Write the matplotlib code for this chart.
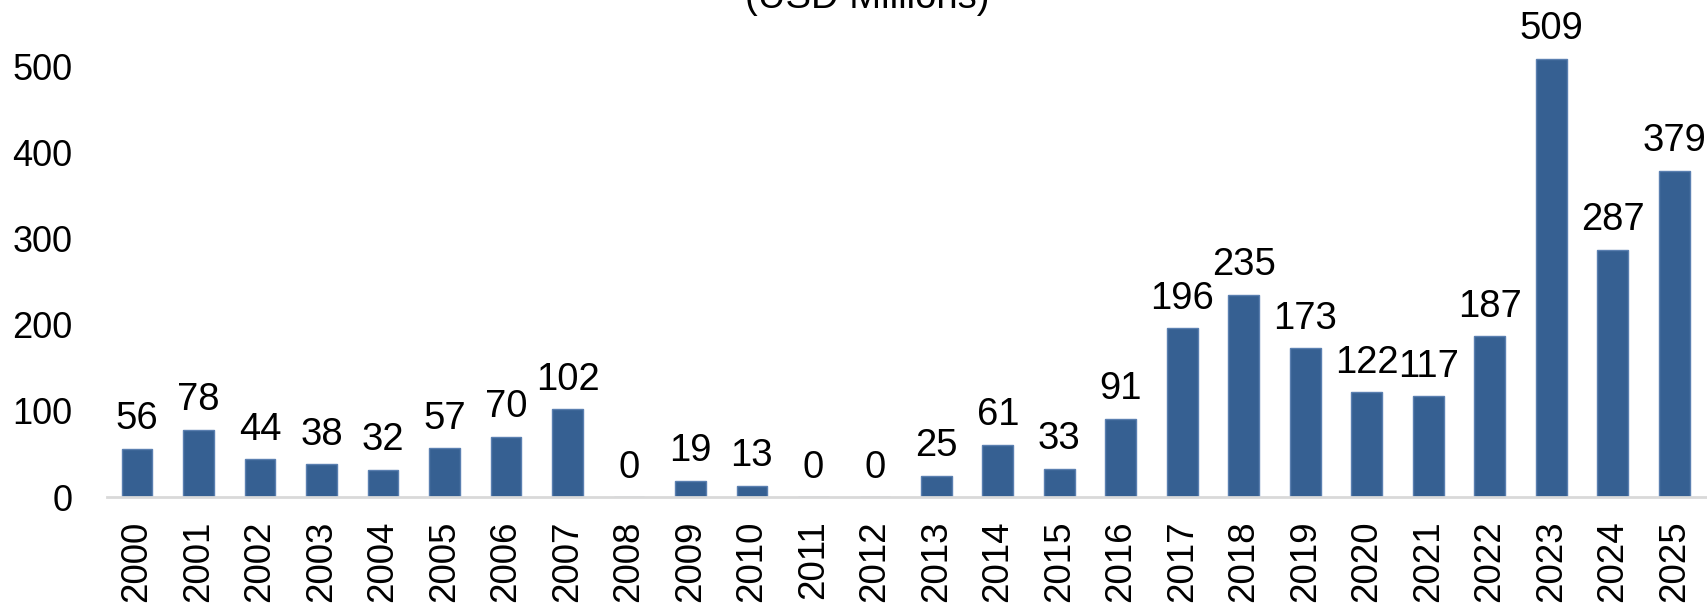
import matplotlib.pyplot as plt
import numpy as np

plt.rcParams['font.family'] = ['Liberation Sans', 'DejaVu Sans']

years = ['2000', '2001', '2002', '2003', '2004', '2005', '2006', '2007', '2008',
         '2009', '2010', '2011', '2012', '2013', '2014', '2015', '2016', '2017',
         '2018', '2019', '2020', '2021', '2022', '2023', '2024', '2025']
values = [56, 78, 44, 38, 32, 57, 70, 102, 0, 19, 13, 0, 0, 25, 61, 33, 91,
          196, 235, 173, 122, 117, 187, 509, 287, 379]
y_ticks = [0, 100, 200, 300, 400, 500]

fig = plt.figure(figsize=(17.08, 6.04), dpi=100)
ax = fig.add_axes([0.0626, 0.177, 0.9374, 0.823])

x = np.arange(len(years))
bars = ax.bar(x, values, width=0.5, color='#366092', edgecolor='#5a7fb0', linewidth=1)

# value labels above bars
for xi, v in zip(x, values):
    ax.annotate(str(v), (xi, v), xytext=(0, 14), textcoords='offset points',
                ha='center', va='baseline', fontsize=27.5)

ax.set_xlim(-0.49, 25.55)
ax.set_ylim(0, 577)
ax.set_yticks(y_ticks)
ax.set_xticks(x)
ax.set_xticklabels(years, rotation=90, fontsize=26.5)
ax.tick_params(axis='y', length=0, pad=25, labelsize=26)
ax.tick_params(axis='x', length=0, pad=17)

for side in ['top', 'right', 'left']:
    ax.spines[side].set_visible(False)
ax.spines['bottom'].set_color('#d9d9d9')
ax.spines['bottom'].set_linewidth(2)

fig.text(0.508, 0.986, '(USD Millions)', ha='center', va='baseline', fontsize=27.5)

fig.savefig('out.png', dpi=100)
